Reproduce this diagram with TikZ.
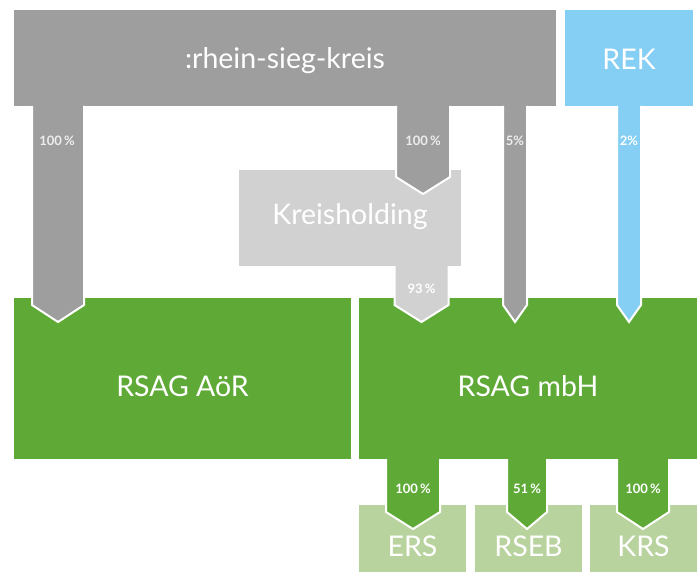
\documentclass[tikz,border=0pt]{standalone}
\usepackage{fontspec}
\setmainfont{Lato}
\usetikzlibrary{calc}
\definecolor{rskgray}{HTML}{9D9E9D}
\definecolor{rekblue}{HTML}{85CFF5}
\definecolor{khgray}{HTML}{D0D1D0}
\definecolor{rsgreen}{HTML}{5FAA37}
\definecolor{ltgreen}{HTML}{B9D39F}
\definecolor{pcttxt}{HTML}{EEEEEE}
\tikzset{
  box/.style={rectangle, inner sep=0pt, outer sep=0pt, draw=none},
  bigtxt/.style={text=white, inner sep=0pt, font=\fontsize{28.5}{30}\selectfont, text height=0.72em, text depth=0pt},
  pct/.style={text=pcttxt, inner sep=0pt, font=\fontsize{13}{15}\selectfont\bfseries, text height=0.72em, text depth=0pt},
  chevfill/.style={draw=white, line width=2pt, line join=miter, line cap=butt}
}
% #1 colour, #2 x centre, #3 half width, #4 source node, #5 target node
\newcommand\chev[5]{%
  \path[chevfill, fill=#1] let \p1=(#4.south), \p2=(#5.north) in
    (#2pt-#3pt,\y1) -- (#2pt-#3pt,\y2-7pt) -- (#2pt,\y2-24pt) --
    (#2pt+#3pt,\y2-7pt) -- (#2pt+#3pt,\y1);
}
\begin{document}
\begin{tikzpicture}[x=1pt,y=-1pt]
\useasboundingbox (0,0) rectangle (700,572);
% boxes
\node[box, fill=rskgray, minimum width=542pt, minimum height=96pt,
  label={[name=rsktxt, bigtxt, yshift=-7pt]center::rhein-sieg-kreis}] (rsk) at (285,58) {};
\node[box, fill=rekblue, minimum width=128pt, minimum height=96pt,
  label={[name=rektxt, bigtxt, yshift=-8pt]center:REK}] (rek) at (629,58) {};
\node[box, fill=khgray, minimum width=222pt, minimum height=96pt,
  label={[name=khtxt, bigtxt, yshift=-3pt]center:Kreisholding}] (kh) at (350,218) {};
\node[box, fill=rsgreen, minimum width=337pt, minimum height=161pt,
  label={[name=aortxt, bigtxt, yshift=-14pt]center:RSAG AöR}] (aor) at (182.5,378.5) {};
\node[box, fill=rsgreen, minimum width=338pt, minimum height=161pt,
  label={[name=mbhtxt, bigtxt, yshift=-14pt]center:RSAG mbH}] (mbh) at (528,378.5) {};
\node[box, fill=ltgreen, minimum width=107pt, minimum height=67pt,
  label={[name=erstxt, bigtxt, yshift=-14.5pt]center:ERS}] (ers) at (412.5,538.5) {};
\node[box, fill=ltgreen, minimum width=107pt, minimum height=67pt,
  label={[name=rsebtxt, bigtxt, yshift=-14.5pt]center:RSEB}] (rseb) at (528.5,538.5) {};
\node[box, fill=ltgreen, minimum width=107pt, minimum height=67pt,
  label={[name=krstxt, bigtxt, yshift=-14.5pt]center:KRS}] (krs) at (643.5,538.5) {};
% chevron connectors
\chev{rskgray}{58}{26}{rsk}{aor}
\chev{rskgray}{423}{27}{rsk}{kh}
\chev{rskgray}{515}{12}{rsk}{mbh}
\chev{rekblue}{629}{12}{rek}{mbh}
\chev{khgray}{421.5}{27}{kh}{mbh}
\chev{rsgreen}{413}{27}{mbh}{ers}
\chev{rsgreen}{527}{20}{mbh}{rseb}
\chev{rsgreen}{643}{26}{mbh}{krs}
% percentages
\node[pct] (p1) at (57,142) {100\,\%};
\node[pct] (p2) at (423,142) {100\,\%};
\node[pct] (p3) at (515,142) {5\%};
\node[pct, text=white] (p4) at (629,142) {2\%};
\node[pct, text=white] (p5) at (421.5,290) {93\,\%};
\node[pct, text=white] (p6) at (413,490) {100\,\%};
\node[pct, text=white] (p7) at (527,490) {51\,\%};
\node[pct, text=white] (p8) at (643,490) {100\,\%};
\end{tikzpicture}
\end{document}
